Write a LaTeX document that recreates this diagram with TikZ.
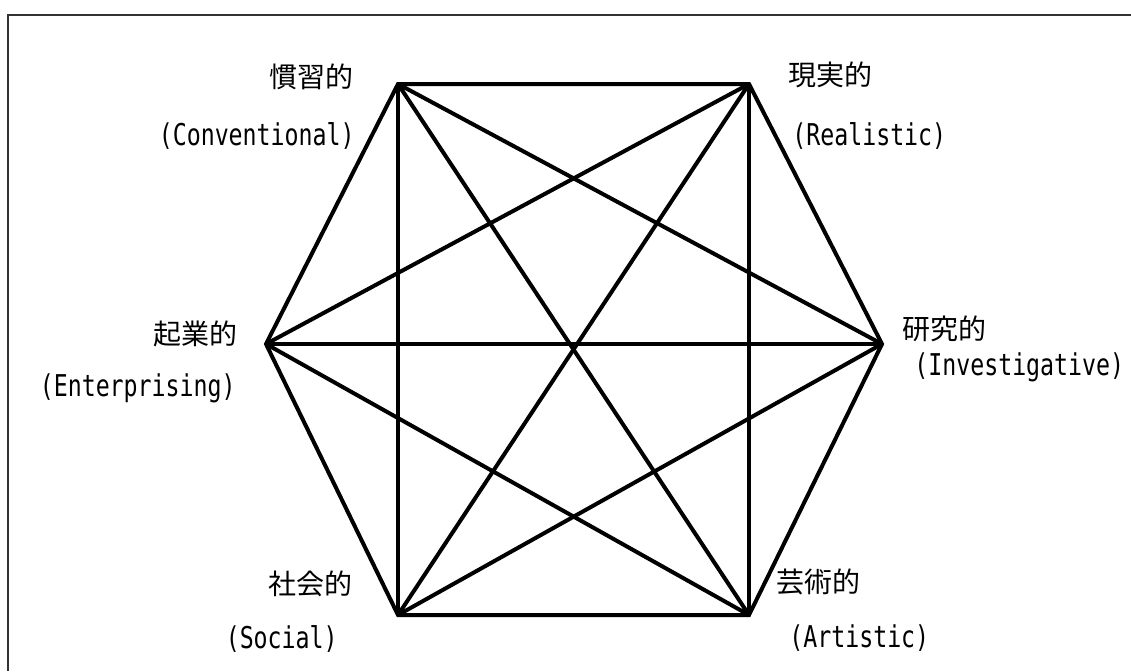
\documentclass[tikz,border=0pt]{standalone}
\usepackage{fontspec}
\usepackage{tikz}
\usetikzlibrary{positioning}
\newfontfamily\jpfont{Noto Sans CJK JP}
\newfontfamily\enfont[FakeStretch=0.775]{DejaVu Sans Mono}

\begin{document}
\begin{tikzpicture}[
			x=0.75pt, y=-0.75pt,
			jp/.style={font=\jpfont\fontsize{21}{25}\selectfont, inner sep=0pt},
			en/.style={font=\enfont\fontsize{22.5}{26}\selectfont, inner sep=0pt},
			edge/.style={line width=3pt, draw=black},
			frame/.style={line width=1.5pt, draw=black!80}
			]
			\useasboundingbox (0,0) rectangle (1131,671);
			\draw[frame] (1131,14.5) -- (7.5,14.5) -- (7.5,671);
			
			% RIASEC corners
			\coordinate (C) at (398,84);
			\coordinate (R) at (749,84);
			\coordinate (I) at (882,344);
			\coordinate (A) at (749,615);
			\coordinate (S) at (398,615);
			\coordinate (E) at (266,344);
			
			\draw[edge] (C) -- (R) -- (I) -- (A) -- (S) -- (E) -- cycle;
			\draw[edge] (C) -- (I);
			\draw[edge] (C) -- (A);
			\draw[edge] (C) -- (S);
			\draw[edge] (R) -- (A);
			\draw[edge] (R) -- (S);
			\draw[edge] (R) -- (E);
			\draw[edge] (I) -- (S);
			\draw[edge] (I) -- (E);
			\draw[edge] (A) -- (E);
			
			\node[jp, anchor=east] (lC) at (354,76.5) {慣習的};
			\node[en, anchor=east] (eC) at (355,136) {(Conventional)};
			\node[jp, anchor=west] (lR) at (788,75) {現実的};
			\node[en, anchor=west] (eR) at (792,136) {(Realistic)};
			\node[jp, anchor=east] (lE) at (238,333.5) {起業的};
			\node[en, anchor=east] (eE) at (236,388) {(Enterprising)};
			\node[jp, anchor=west] (lI) at (902,329) {研究的};
			\node[en, anchor=west] (eI) at (914,367.5) {(Investigative)};
			\node[jp, anchor=east] (lS) at (353,583.5) {社会的};
			\node[en, anchor=east] (eS) at (338,639) {(Social)};
			\node[jp, anchor=west] (lA) at (776,582) {芸術的};
			\node[en, anchor=west] (eA) at (789,638.5) {(Artistic)};
		\end{tikzpicture}
\end{document}
